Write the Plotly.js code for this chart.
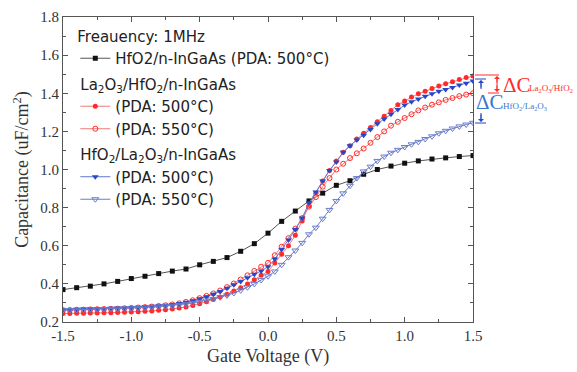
<!DOCTYPE html>
<html><head><meta charset="utf-8">
<script src="https://cdn.plot.ly/plotly-3.0.1.min.js"></script>
<style>html,body{margin:0;padding:0;background:#fff}#chart{width:577px;height:372px}</style>
</head><body><div id="chart"></div>
<script>
// Gate voltage grids
const vBlack = [-1.5,-1.4,-1.3,-1.2,-1.1,-1.0,-0.9,-0.8,-0.7,-0.6,-0.5,-0.4,-0.3,-0.2,-0.1,0.0,0.1,0.2,0.3,0.4,0.5,0.6,0.7,0.8,0.9,1.0,1.1,1.2,1.3,1.4,1.5];
const vFine = [-1.5,-1.45,-1.4,-1.35,-1.3,-1.25,-1.2,-1.15,-1.1,-1.05,-1.0,-0.95,-0.9,-0.85,-0.8,-0.75,-0.7,-0.65,-0.6,-0.55,-0.5,-0.45,-0.4,-0.35,-0.3,-0.25,-0.2,-0.15,-0.1,-0.05,0.0,0.05,0.1,0.15,0.2,0.25,0.3,0.35,0.4,0.45,0.5,0.55,0.6,0.65,0.7,0.75,0.8,0.85,0.9,0.95,1.0,1.05,1.1,1.15,1.2,1.25,1.3,1.35,1.4,1.45,1.5];

// HfO2/n-InGaAs (PDA 500C)
const cHfO2 = [0.370,0.380,0.388,0.400,0.413,0.428,0.440,0.454,0.467,0.478,0.500,0.518,0.538,0.571,0.611,0.666,0.728,0.782,0.835,0.876,0.917,0.941,0.975,1.000,1.018,1.033,1.045,1.055,1.061,1.068,1.073];
// La2O3/HfO2/n-InGaAs PDA 500C
const cLaHf500 = [0.245,0.245,0.246,0.246,0.247,0.247,0.248,0.249,0.250,0.251,0.252,0.254,0.256,0.258,0.261,0.264,0.268,0.273,0.279,0.287,0.296,0.306,0.318,0.331,0.346,0.362,0.380,0.400,0.422,0.445,0.465,0.510,0.555,0.600,0.655,0.730,0.810,0.875,0.940,0.995,1.045,1.090,1.125,1.160,1.190,1.220,1.250,1.280,1.310,1.340,1.360,1.380,1.397,1.410,1.425,1.438,1.450,1.460,1.472,1.482,1.490];
// La2O3/HfO2/n-InGaAs PDA 550C
const cLaHf550 = [0.262,0.263,0.264,0.265,0.266,0.267,0.268,0.269,0.270,0.272,0.274,0.276,0.278,0.281,0.284,0.288,0.292,0.298,0.305,0.314,0.325,0.337,0.350,0.365,0.383,0.402,0.423,0.445,0.468,0.490,0.510,0.550,0.595,0.640,0.690,0.745,0.805,0.855,0.910,0.955,1.000,1.030,1.060,1.085,1.110,1.140,1.170,1.200,1.230,1.250,1.270,1.290,1.310,1.325,1.340,1.352,1.365,1.375,1.385,1.393,1.400];
// HfO2/La2O3/n-InGaAs PDA 500C
const cHfLa500 = [0.265,0.266,0.267,0.268,0.269,0.270,0.271,0.272,0.273,0.274,0.276,0.278,0.280,0.282,0.285,0.288,0.292,0.297,0.303,0.312,0.322,0.333,0.346,0.360,0.377,0.395,0.413,0.432,0.450,0.468,0.490,0.530,0.580,0.630,0.685,0.745,0.825,0.882,0.940,0.995,1.040,1.090,1.125,1.155,1.180,1.210,1.240,1.265,1.290,1.315,1.338,1.355,1.370,1.384,1.397,1.410,1.420,1.430,1.443,1.453,1.464];
// HfO2/La2O3/n-InGaAs PDA 550C
const cHfLa550 = [0.262,0.263,0.264,0.265,0.266,0.267,0.268,0.269,0.270,0.271,0.272,0.274,0.276,0.278,0.280,0.283,0.286,0.290,0.295,0.300,0.306,0.313,0.321,0.330,0.340,0.352,0.366,0.382,0.400,0.420,0.440,0.465,0.500,0.540,0.575,0.615,0.660,0.695,0.742,0.788,0.835,0.875,0.915,0.955,0.990,1.015,1.045,1.068,1.088,1.103,1.118,1.132,1.145,1.160,1.174,1.190,1.203,1.215,1.226,1.236,1.245];

const xTickVals = [-1.5,-1.0,-0.5,0.0,0.5,1.0,1.5];
const xTickText = ["-1.5","-1.0","-0.5","0.0","0.5","1.0","1.5"];
const yTickVals = [0.2,0.4,0.6,0.8,1.0,1.2,1.4,1.6,1.8];
const yTickText = ["0.2","0.4","0.6","0.8","1.0","1.2","1.4","1.6","1.8"];

const names = {
  hf: "HfO2/n-InGaAs (PDA: 500°C)",
  g1: "La<sub>2</sub>O<sub>3</sub>/HfO<sub>2</sub>/n-InGaAs",
  g2: "HfO<sub>2</sub>/La<sub>2</sub>O<sub>3</sub>/n-InGaAs",
  p500: "(PDA: 500°C)",
  p550: "(PDA: 550°C)"
};

const RED = '#ff2b2b', REDL = '#f07a7a', BLUE = '#2547c8', BLUEL = '#5d78d2', BLUE2 = '#6a7ccc';

const traces = [
  {x: vBlack, y: cHfO2, name: names.hf, legendgroup: 'a', mode: 'lines+markers',
   line: {color: '#555', width: 1}, marker: {symbol: 'square', size: 5, color: '#111'}},
  {x: vFine, y: cLaHf500, name: names.p500, legendgroup: 'b', legendgrouptitle: {text: names.g1}, mode: 'lines+markers',
   line: {color: REDL, width: 1}, marker: {symbol: 'circle', size: 5, color: RED}},
  {x: vFine, y: cLaHf550, name: names.p550, legendgroup: 'b', mode: 'lines+markers',
   line: {color: REDL, width: 1}, marker: {symbol: 'circle-open', size: 5, color: RED, line: {width: 1}}},
  {x: vFine, y: cHfLa500, name: names.p500, legendgroup: 'c', legendgrouptitle: {text: names.g2}, mode: 'lines+markers',
   line: {color: BLUEL, width: 1}, marker: {symbol: 'triangle-down', size: 6, color: BLUE}},
  {x: vFine, y: cHfLa550, name: names.p550, legendgroup: 'c', mode: 'lines+markers',
   line: {color: BLUE2, width: 1}, marker: {symbol: 'triangle-down-open', size: 6, color: BLUE2, line: {width: 1}}}
];

// pixel helpers for the right-hand annotation (plot area: left 63, width 410, top 17, height 305)
const px = p => (p - 63) / 410;
const py = p => (322 - p) / 305;

const shapes = [
  {type: 'line', xref: 'paper', yref: 'paper', x0: px(475), x1: px(499), y0: py(75), y1: py(75), line: {color: RED, width: 1}},
  {type: 'line', xref: 'paper', yref: 'paper', x0: px(488), x1: px(499), y0: py(93), y1: py(93), line: {color: RED, width: 1}},
  {type: 'line', xref: 'paper', yref: 'paper', x0: px(497), x1: px(497), y0: py(77), y1: py(91), line: {color: RED, width: 1}},
  {type: 'line', xref: 'paper', yref: 'paper', x0: px(475), x1: px(486), y0: py(79), y1: py(79), line: {color: BLUE, width: 1}},
  {type: 'line', xref: 'paper', yref: 'paper', x0: px(475), x1: px(486), y0: py(123), y1: py(123), line: {color: BLUE, width: 1}},
  {type: 'line', xref: 'paper', yref: 'paper', x0: px(481), x1: px(481), y0: py(81), y1: py(89), line: {color: BLUE, width: 1}},
  {type: 'line', xref: 'paper', yref: 'paper', x0: px(481), x1: px(481), y0: py(113), y1: py(121), line: {color: BLUE, width: 1}}
];

const annotations = [
  {xref: 'paper', yref: 'paper', x: px(501), y: py(85), xanchor: 'left', yanchor: 'middle', showarrow: false,
   text: 'ΔC', font: {family: 'Liberation Serif, serif', size: 21, color: RED}},
  {xref: 'paper', yref: 'paper', x: px(527), y: py(89), xanchor: 'left', yanchor: 'middle', showarrow: false,
   text: 'La<sub>2</sub>O<sub>3</sub>/HfO<sub>2</sub>', font: {family: 'Liberation Serif, serif', size: 9, color: RED}},
  {xref: 'paper', yref: 'paper', x: px(474), y: py(102), xanchor: 'left', yanchor: 'middle', showarrow: false,
   text: 'ΔC', font: {family: 'Liberation Serif, serif', size: 21, color: '#3a78d0'}},
  {xref: 'paper', yref: 'paper', x: px(501), y: py(106), xanchor: 'left', yanchor: 'middle', showarrow: false,
   text: 'HfO<sub>2</sub>/La<sub>2</sub>O<sub>3</sub>', font: {family: 'Liberation Serif, serif', size: 9, color: '#3a78d0'}},
  {xref: 'paper', yref: 'paper', x: px(497), y: py(76), ax: 0, ay: 8, showarrow: true, arrowhead: 1, arrowsize: 1, arrowwidth: 1, arrowcolor: RED, text: ''},
  {xref: 'paper', yref: 'paper', x: px(497), y: py(92), ax: 0, ay: -8, showarrow: true, arrowhead: 1, arrowsize: 1, arrowwidth: 1, arrowcolor: RED, text: ''},
  {xref: 'paper', yref: 'paper', x: px(481), y: py(80), ax: 0, ay: 9, showarrow: true, arrowhead: 1, arrowsize: 1, arrowwidth: 1, arrowcolor: BLUE, text: ''},
  {xref: 'paper', yref: 'paper', x: px(481), y: py(122), ax: 0, ay: -9, showarrow: true, arrowhead: 1, arrowsize: 1, arrowwidth: 1, arrowcolor: BLUE, text: ''},
  // x-axis title
  {xref: 'paper', yref: 'paper', x: 0.5, y: py(356), xanchor: 'center', yanchor: 'middle', showarrow: false,
   text: 'Gate Voltage (V)', font: {family: 'Liberation Serif, serif', size: 18, color: '#333'}}
];

const axisCommon = {
  showline: true, linecolor: '#555', linewidth: 1, mirror: 'ticks', ticks: 'inside', ticklen: 5, tickcolor: '#555',
  showgrid: false, zeroline: false,
  tickfont: {family: 'Liberation Serif, serif', size: 15, color: '#333'}
};

const layout = {
  width: 577, height: 372,
  margin: {l: 63, r: 104, t: 17, b: 50},
  paper_bgcolor: '#fff', plot_bgcolor: '#fff',
  xaxis: Object.assign({}, axisCommon, {
    range: [-1.5, 1.5], tickmode: 'array', tickvals: xTickVals, ticktext: xTickText,
    minor: {dtick: 0.25, ticks: 'inside', ticklen: 3, tickcolor: '#555'}
  }),
  yaxis: Object.assign({}, axisCommon, {
    range: [0.2, 1.8], tickmode: 'array', tickvals: yTickVals, ticktext: yTickText,
    minor: {dtick: 0.1, ticks: 'inside', ticklen: 3, tickcolor: '#555'},
    title: {text: 'Capacitance (uF/cm<sup>2</sup>)', font: {family: 'Liberation Serif, serif', size: 18, color: '#333'}, standoff: 6}
  }),
  showlegend: true,
  legend: {
    x: 0.03, y: 0.982, xanchor: 'left', yanchor: 'top', bgcolor: 'rgba(0,0,0,0)',
    font: {family: 'DejaVu Sans, sans-serif', size: 15, color: '#222'},
    title: {text: 'Freauency: 1MHz', font: {family: 'DejaVu Sans, sans-serif', size: 15, color: '#222'}},
    grouptitlefont: {family: 'DejaVu Sans, sans-serif', size: 15, color: '#222'},
    tracegroupgap: 3, itemwidth: 30
  },
  shapes: shapes, annotations: annotations
};

Plotly.newPlot('chart', traces, layout, {displayModeBar: false, staticPlot: true});
</script></body></html>
